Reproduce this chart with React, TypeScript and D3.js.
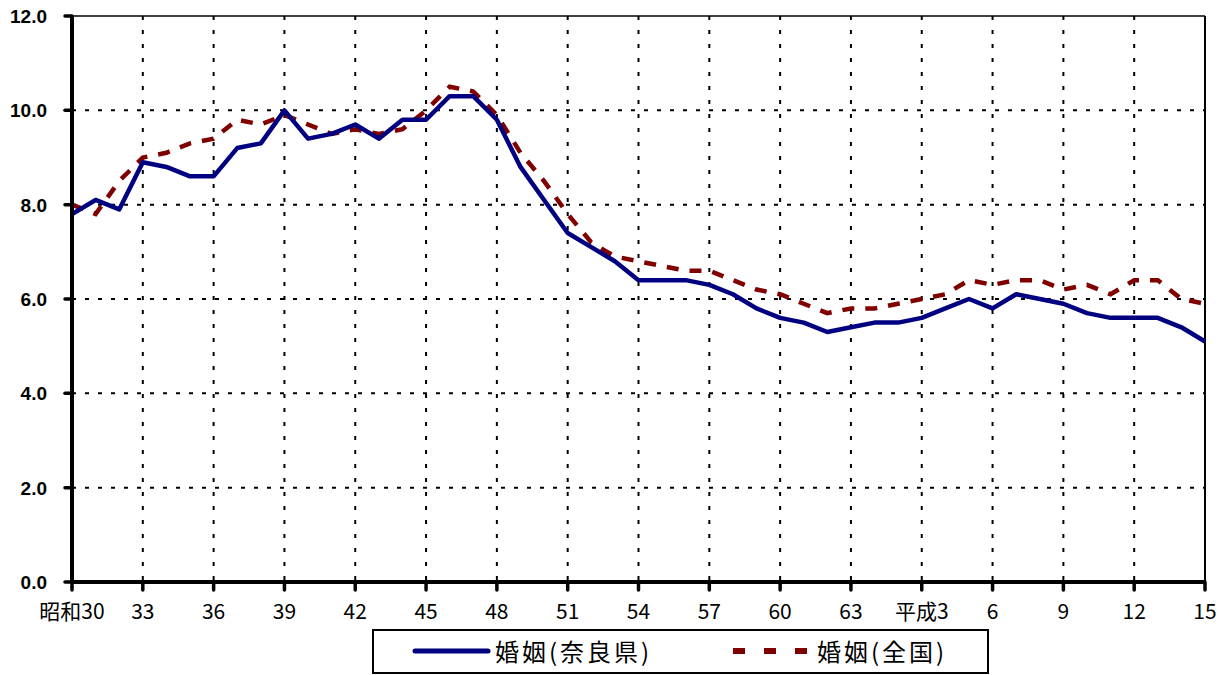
import * as d3 from "d3";

// 年次 (昭和30年 = 1955 〜 平成15年 = 2003)
const years = d3.range(1955, 2004);

// 婚姻率（人口千対）
const nara = [
  7.8, 8.1, 7.9, 8.9, 8.8, 8.6, 8.6, 9.2, 9.3, 10.0,
  9.4, 9.5, 9.7, 9.4, 9.8, 9.8, 10.3, 10.3, 9.8, 8.8,
  8.1, 7.4, 7.1, 6.8, 6.4, 6.4, 6.4, 6.3, 6.1, 5.8,
  5.6, 5.5, 5.3, 5.4, 5.5, 5.5, 5.6, 5.8, 6.0, 5.8,
  6.1, 6.0, 5.9, 5.7, 5.6, 5.6, 5.6, 5.4, 5.1,
];
const zenkoku = [
  8.0, 7.8, 8.5, 9.0, 9.1, 9.3, 9.4, 9.8, 9.7, 9.9,
  9.7, 9.5, 9.6, 9.5, 9.6, 10.0, 10.5, 10.4, 9.9, 9.1,
  8.5, 7.8, 7.2, 6.9, 6.8, 6.7, 6.6, 6.6, 6.4, 6.2,
  6.1, 5.9, 5.7, 5.8, 5.8, 5.9, 6.0, 6.1, 6.4, 6.3,
  6.4, 6.4, 6.2, 6.3, 6.1, 6.4, 6.4, 6.0, 5.9,
];

const tickYears = [1955, 1958, 1961, 1964, 1967, 1970, 1973, 1976, 1979, 1982, 1985, 1988, 1991, 1994, 1997, 2000, 2003];
const tickLabels = ["昭和30", "33", "36", "39", "42", "45", "48", "51", "54", "57", "60", "63", "平成3", "6", "9", "12", "15"];
const yTicks = [0, 2, 4, 6, 8, 10, 12];

const seriesNames = ["婚姻(奈良県)", "婚姻(全国)"];

const W = 1223;
const H = 675;
const left = 72;
const right = 1205;
const top = 16;
const bottom = 582;

export default function App() {
  const x = d3.scaleLinear().domain([1955, 2003]).range([left, right]);
  const y = d3.scaleLinear().domain([0, 12]).range([bottom, top]);

  const line = d3
    .line<number>()
    .x((_, i) => x(years[i]))
    .y((d) => y(d));

  const cjk = "'Noto Sans CJK JP', 'Noto Sans', sans-serif";

  return (
    <svg
      width={W}
      height={H}
      style={{ position: "absolute", left: 0, top: 0, background: "#fff" }}
    >
      {/* gridlines */}
      {yTicks.slice(1, -1).map((t) => (
        <line
          key={"h" + t}
          x1={left}
          x2={right}
          y1={y(t)}
          y2={y(t)}
          stroke="#000"
          strokeWidth={2}
          strokeDasharray="4,9"
        />
      ))}
      {tickYears.slice(1, -1).map((t) => (
        <line
          key={"v" + t}
          x1={x(t)}
          x2={x(t)}
          y1={top}
          y2={bottom}
          stroke="#000"
          strokeWidth={2}
          strokeDasharray="4,10"
        />
      ))}

      {/* frame */}
      <line x1={left} x2={right} y1={top} y2={top} stroke="#000" strokeWidth={1.5} />
      <line x1={right} x2={right} y1={top} y2={bottom} stroke="#000" strokeWidth={2} />

      {/* series */}
      <path
        d={line(zenkoku) ?? ""}
        fill="none"
        stroke="#800000"
        strokeWidth={4.5}
        strokeDasharray="12,11"
      />
      <path
        d={line(nara) ?? ""}
        fill="none"
        stroke="#000080"
        strokeWidth={4.5}
        strokeLinejoin="round"
      />

      {/* axes */}
      <line x1={left} x2={left} y1={top} y2={bottom} stroke="#000" strokeWidth={4} />
      <line x1={left} x2={right} y1={bottom} y2={bottom} stroke="#000" strokeWidth={4} />
      {yTicks.map((t) => (
        <g key={"yt" + t}>
          <line x1={65} x2={left} y1={y(t)} y2={y(t)} stroke="#000" strokeWidth={3.5} strokeLinecap="round" />
          <text
            x={47}
            y={y(t)}
            dy="0.36em"
            textAnchor="end"
            fontFamily="'Liberation Sans', Arial, sans-serif"
            fontWeight="bold"
            fontSize={19}
          >
            {t.toFixed(1)}
          </text>
        </g>
      ))}
      {tickYears.map((t, i) => (
        <g key={"xt" + t}>
          <line x1={x(t)} x2={x(t)} y1={bottom} y2={590} stroke="#000" strokeWidth={3.5} strokeLinecap="round" />
          <text x={x(t)} y={619} textAnchor="middle" fontFamily={cjk} fontSize={21}>
            {tickLabels[i]}
          </text>
        </g>
      ))}

      {/* legend */}
      <rect x={373} y={630} width={615} height={43} fill="#fff" stroke="#000" strokeWidth={2} />
      <line x1={415} x2={488} y1={651} y2={651} stroke="#000080" strokeWidth={5} strokeLinecap="round" />
      <text x={495} y={661} fontFamily={cjk} fontSize={24} letterSpacing={3}>
        {seriesNames[0]}
      </text>
      <line
        x1={733}
        x2={807}
        y1={651}
        y2={651}
        stroke="#800000"
        strokeWidth={6}
        strokeDasharray="12,19"
      />
      <text x={817} y={661} fontFamily={cjk} fontSize={24} letterSpacing={3}>
        {seriesNames[1]}
      </text>
    </svg>
  );
}
